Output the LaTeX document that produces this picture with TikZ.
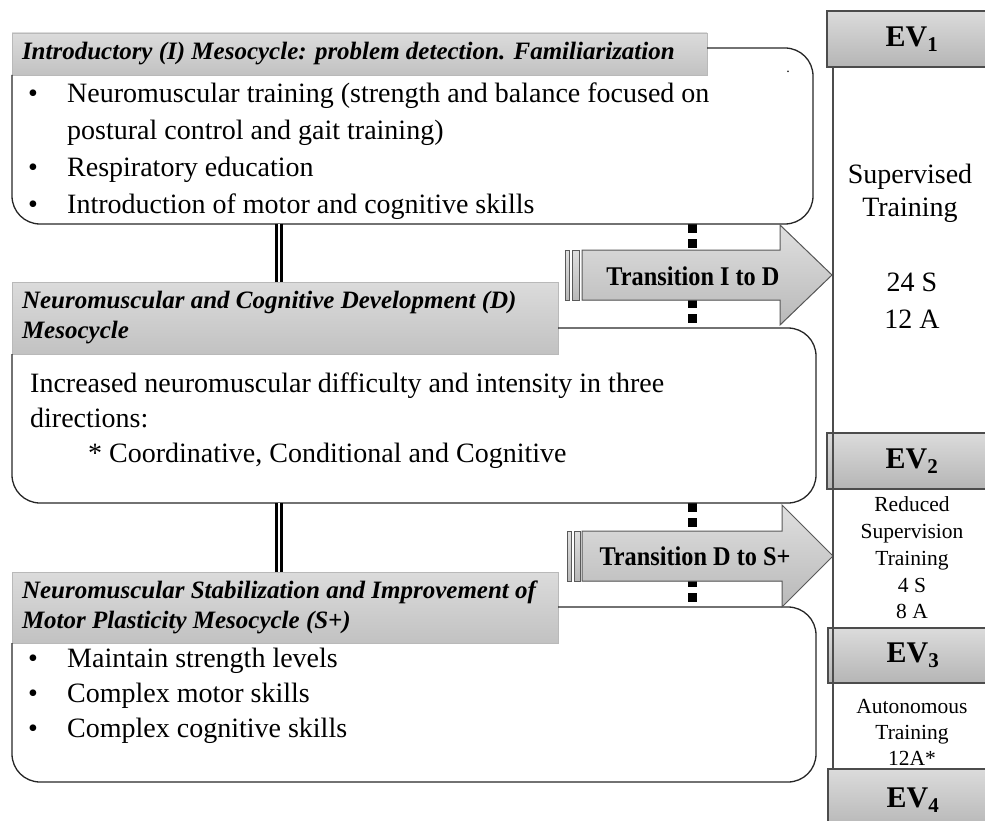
\documentclass[tikz,border=0pt]{standalone}
\usepackage{fontspec}
\setmainfont{Liberation Serif}
\usepackage{tikz}
\usetikzlibrary{positioning,calc}
\tikzset{
  boxarea/.style  = {anchor=north west, inner sep=0pt, outer sep=0pt, draw=none},
  mesoline/.style = {draw=black!85, line width=1.3pt, rounded corners=28pt},
  header/.style   = {draw=gray!55, line width=0.8pt, top color=gray!28, bottom color=gray!48,
                     anchor=north west, inner xsep=10pt, inner ysep=0pt, outer sep=0pt,
                     align=flush left, font=\fontsize{25}{30}\selectfont\bfseries\itshape},
  bodytext/.style = {anchor=north west, inner sep=0pt},
  evbox/.style    = {draw=black!70, line width=1.2pt, top color=gray!28, bottom color=gray!58,
                     anchor=north west, inner sep=0pt, outer sep=0pt, minimum width=170pt,
                     font=\fontsize{30}{36}\selectfont\bfseries},
  trans/.style    = {draw=black!65, line width=1pt, top color=gray!25, bottom color=gray!55},
  translabel/.style = {inner sep=0pt, font=\fontsize{27}{30}\selectfont\bfseries},
  link/.style     = {draw=black, double=white, double distance=2pt, line width=3pt},
  dots/.style     = {draw=black, line width=9pt, dash pattern=on 9pt off 6pt},
  colline/.style  = {draw=black!70, line width=1.2pt},
  coltext/.style  = {align=center, inner sep=0pt}
}

\begin{document}
\begin{tikzpicture}[x=1pt, y=-1pt]
  \clip (0,0) rectangle (985,821);
  % mesocycle areas
  \node[boxarea, minimum width=801pt, minimum height=176pt] (boxI) at (12,48)  {};
  \node[boxarea, minimum width=804pt, minimum height=175pt] (boxD) at (12,328) {};
  \node[boxarea, minimum width=804pt, minimum height=175pt] (boxS) at (12,607) {};
  \coordinate (dotx) at (692,0);
  \coordinate (linkx) at (279,0);
  \coordinate (colx) at (833,0);

  \draw[dots] (boxI.south -| dotx) -- (boxD.north -| dotx);
  \draw[dots] (boxD.south -| dotx) -- (boxS.north -| dotx);

  % headers
  \node[header, text width=675pt, minimum height=42pt] (hdrI) at (12,33)
    {Introductory (I) Mesocycle: problem detection. Familiarization};
  \node[header, text width=526pt, minimum height=72pt] (hdrD) at (12,282)
    {Neuromuscular and Cognitive Development (D)\\Mesocycle};
  \node[header, text width=526pt, minimum height=71pt] (hdrS) at (12,572)
    {Neuromuscular Stabilization and Improvement of\\Motor Plasticity Mesocycle (S+)};

  \draw[mesoline] (hdrI.south west) -- (boxI.south west) -- (boxI.south east)
    -- (boxI.north east) -- (hdrI.north east |- boxI.north);
  \draw[mesoline] (hdrD.south west) -- (boxD.south west) -- (boxD.south east)
    -- (boxD.north east) -- (hdrD.north east |- boxD.north);
  \draw[mesoline] (hdrS.south west) -- (boxS.south west) -- (boxS.south east)
    -- (boxS.north east) -- (hdrS.north east |- boxS.north);

  % contents
  \node[bodytext, font=\fontsize{28}{37}\selectfont] (listI) at (28,76) {%
    \begin{tabular}{@{}p{39pt}@{}l@{}}
      \textbullet & Neuromuscular training (strength and balance focused on\\
                  & postural control and gait training)\\
      \textbullet & Respiratory education\\
      \textbullet & Introduction of motor and cognitive skills
    \end{tabular}};
  \node[inner sep=0pt, font=\fontsize{14}{14}\selectfont] (mark) at (788,72) {.};
  \node[bodytext, font=\fontsize{28}{35}\selectfont] (listD) at (30,368) {%
    \begin{tabular}{@{}l@{}}
      Increased neuromuscular difficulty and intensity in three\\
      directions:\\
      \hspace*{58pt}* Coordinative, Conditional and Cognitive
    \end{tabular}};
  \node[bodytext, font=\fontsize{28}{35}\selectfont] (listS) at (28,643) {%
    \begin{tabular}{@{}p{39pt}@{}l@{}}
      \textbullet & Maintain strength levels\\
      \textbullet & Complex motor skills\\
      \textbullet & Complex cognitive skills
    \end{tabular}};

  \draw[link] (boxI.south -| linkx) -- (hdrD.north -| linkx);
  \draw[link] (boxD.south -| linkx) -- (hdrS.north -| linkx);

  % transitions
  \filldraw[trans] (582,250) -- (780,250) -- (780,225) -- (832,275)
    -- (780,325) -- (780,300) -- (582,300) -- cycle;
  \filldraw[trans] (565,250) rectangle (569,300);
  \filldraw[trans] (572,250) rectangle (579,300);
  \node[translabel] (tID) at (693,276) {\scalebox{0.9}[1]{Transition I to D}};

  \filldraw[trans] (582,531) -- (782,531) -- (782,505) -- (833,556)
    -- (782,607) -- (782,581) -- (582,581) -- cycle;
  \filldraw[trans] (567,531) rectangle (571,581);
  \filldraw[trans] (574,531) rectangle (580,581);
  \node[translabel] (tDS) at (695,556) {\scalebox{0.9}[1]{Transition D to S+}};

  % evaluations
  \node[evbox, minimum height=56pt] (ev1) at (827,11)  {EV\textsubscript{1}};
  \node[evbox, minimum height=56pt] (ev2) at (827,433) {EV\textsubscript{2}};
  \node[evbox, minimum height=55pt] (ev3) at (828,628) {EV\textsubscript{3}};
  \node[evbox, minimum height=62pt] (ev4) at (828,769) {EV\textsubscript{4}};
  \draw[colline] (ev1.south -| colx) -- (ev4.north -| colx);

  \node[coltext, font=\fontsize{28}{33}\selectfont] (supT) at (910,193) {Supervised\\Training};
  \node[coltext, font=\fontsize{28}{37}\selectfont] (supN) at (912,301) {24 S\\12 A};
  \node[coltext, font=\fontsize{21.5}{26.7}\selectfont] (redT) at (912,558)
    {Reduced\\Supervision\\Training\\4 S\\8 A};
  \node[coltext, font=\fontsize{21.5}{26}\selectfont] (autT) at (912,732)
    {Autonomous\\Training\\12A*};
\end{tikzpicture}
\end{document}
